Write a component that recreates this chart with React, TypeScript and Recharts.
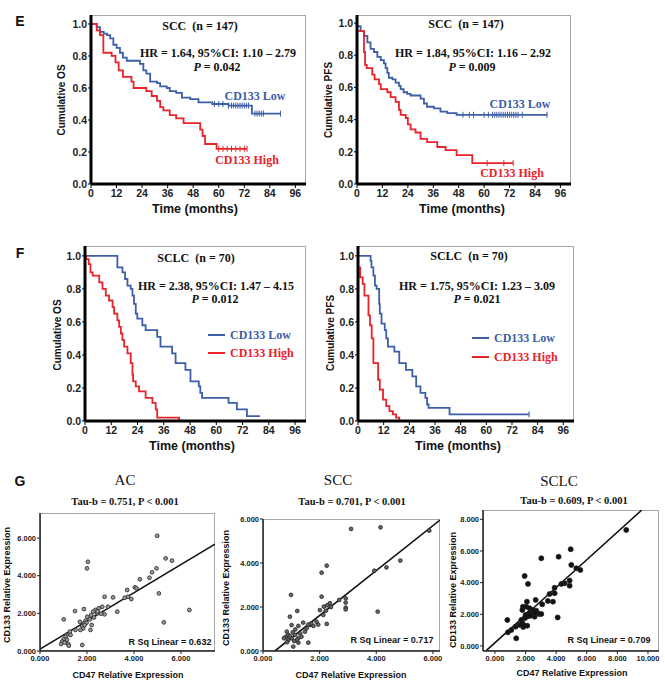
import React from "react";
import { ComposedChart, Line, Scatter, XAxis, YAxis } from "recharts";

// Kaplan-Meier steps: [months, survival]
const osSccLow = [[0,1],[2.7,0.98],[4.2,0.95],[6,0.94],[7.5,0.93],[9,0.91],[10.5,0.87],[12,0.85],[13.6,0.82],[15,0.79],[16.8,0.77],[23,0.75],[24.6,0.71],[26,0.69],[27.8,0.64],[31,0.63],[32.5,0.61],[35.6,0.6],[37,0.58],[40,0.57],[42.7,0.54],[46.6,0.53],[50.5,0.51],[57,0.5],[64.6,0.49],[75.6,0.44],[89,0.44]];
const osSccHigh = [[0,1],[2.7,0.96],[4.2,0.93],[5.8,0.82],[9.7,0.8],[11.5,0.76],[13,0.71],[15,0.67],[19,0.64],[20,0.6],[26,0.58],[28.5,0.55],[31,0.52],[32.5,0.48],[34,0.46],[37,0.43],[40,0.41],[43.5,0.38],[51.3,0.34],[52.4,0.3],[53.6,0.25],[59,0.22],[73.3,0.22]];
const pfsSccLow = [[0,0.98],[1.7,0.95],[3.3,0.92],[4.9,0.88],[6.4,0.84],[8,0.82],[9.6,0.79],[11.2,0.77],[12.7,0.75],[13.5,0.72],[14.3,0.69],[15,0.66],[16.7,0.65],[18.2,0.63],[19.8,0.61],[20.6,0.59],[22,0.57],[23.7,0.56],[25.3,0.55],[30,0.53],[31.6,0.5],[33,0.48],[36.3,0.47],[39.4,0.45],[42.6,0.44],[47,0.43],[89.7,0.43]];
const pfsSccHigh = [[0,0.95],[3.3,0.82],[3.8,0.74],[4.6,0.72],[7.2,0.68],[8.3,0.65],[10.4,0.62],[11.2,0.59],[14.3,0.57],[15.9,0.54],[18.2,0.51],[19.8,0.46],[20.6,0.43],[23,0.41],[24,0.37],[25.3,0.34],[27.6,0.32],[30,0.28],[33.1,0.26],[37.9,0.23],[41.8,0.21],[47,0.18],[54.4,0.13],[73.7,0.13]];
const osSclcLow = [[0,1],[14.8,0.93],[17.1,0.9],[18.3,0.86],[19.4,0.82],[20.9,0.8],[21.7,0.76],[22.4,0.71],[23.2,0.65],[23.9,0.62],[26.2,0.58],[27.7,0.55],[33,0.51],[34.5,0.45],[39.8,0.41],[41.4,0.35],[45.9,0.31],[48.2,0.24],[52,0.21],[52.7,0.17],[53.5,0.14],[65.6,0.11],[69.4,0.07],[74,0.03],[80,0.03]];
const osSclcHigh = [[0,1],[0.5,0.98],[1.7,0.95],[2.5,0.9],[3.5,0.88],[6.5,0.84],[8,0.8],[9.5,0.76],[11,0.73],[12.6,0.69],[13.3,0.65],[14.8,0.61],[15.6,0.57],[16.4,0.53],[17.1,0.49],[17.9,0.45],[19.4,0.41],[20.9,0.35],[21.7,0.28],[22,0.24],[23.2,0.21],[24.7,0.18],[27.7,0.14],[30.8,0.11],[32.3,0.07],[33,0.02],[43,0]];
const pfsSclcLow = [[0,1],[5.9,0.97],[6.3,0.93],[7.2,0.88],[7.9,0.82],[8.7,0.8],[9.9,0.71],[10.2,0.65],[11,0.59],[12.5,0.55],[13.2,0.5],[14,0.45],[17,0.42],[19.3,0.35],[22.4,0.31],[25.4,0.27],[27.2,0.21],[29.2,0.17],[31.5,0.14],[32.3,0.1],[33,0.08],[42.8,0.04],[80,0.04]];
const pfsSclcHigh = [[0,0.93],[1,0.87],[2.2,0.83],[3,0.76],[4.9,0.64],[5.6,0.58],[6.4,0.5],[7.2,0.35],[9.4,0.25],[10.2,0.19],[11.7,0.13],[13.2,0.09],[14.7,0.06],[16.3,0.04],[17.8,0.02],[19.3,0]];

// censored times
const osSccLowCens = [58,60,62,64.6,66,67,68,69,70,71,72,73,74,77,78,79,80,81,89];
const osSccHighCens = [60,62,64,66,68,70,72,73.3];
const pfsSccLowCens = [50,53,55,60,62,64,65,66,67,68,69,70,71,72,73,74,75,76,78,89.7];
const pfsSccHighCens = [61.4,69.3,73.7];
const pfsSclcLowCens = [80];

const monthTicks = [0,12,24,36,48,60,72,84,96];
const survTicks = [0,0.2,0.4,0.6,0.8,1.0];

// scatter: [CD47, CD133]
const acPoints = [[4.99,6.12],[2.04,4.74],[2.0,4.39],[5.35,4.92],[5.62,4.8],[4.96,4.39],[4.77,4.18],[4.66,3.89],[4.25,3.81],[4.04,3.38],[4.11,3.33],[3.71,3.24],[5.06,3.06],[6.36,2.18],[5.27,1.52],[3.74,2.88],[3.89,2.76],[3.61,2.83],[3.11,2.85],[2.75,2.88],[3.29,2.09],[2.89,2.35],[2.75,1.95],[2.65,2.35],[2.5,2.27],[2.36,2.18],[2.26,2.09],[2.43,2.0],[2.18,1.91],[2.12,1.68],[2.01,1.82],[1.87,2.23],[1.49,2.12],[1.01,1.68],[2.2,1.38],[2.15,1.12],[1.94,1.61],[1.87,1.47],[1.8,1.33],[1.84,1.2],[1.72,1.12],[1.51,1.12],[1.27,1.03],[1.3,0.85],[1.13,0.85],[1.09,0.76],[1.01,0.62],[0.94,0.5],[0.9,0.37],[1.2,0.37],[1.8,0.32],[1.23,0.28],[1.7,1.55],[2.3,1.78],[2.45,2.1],[2.6,1.98],[1.98,1.5],[1.9,1.38],[1.05,0.45],[1.15,0.6]];
const sccPoints = [[3.11,5.55],[4.15,5.62],[5.87,5.47],[2.25,3.88],[2.07,3.56],[3.93,3.65],[4.36,3.8],[4.85,4.11],[0.99,2.55],[2.07,2.47],[4.05,1.79],[1.21,1.82],[0.95,1.56],[2.92,2.39],[2.92,2.2],[2.92,1.97],[2.92,1.89],[2.69,2.32],[2.36,2.17],[2.27,2.08],[2.15,2.02],[2.22,1.83],[2.01,1.86],[2.13,1.64],[2.25,1.23],[1.89,1.33],[1.66,1.18],[1.42,1.29],[1.25,1.14],[1.14,0.98],[1.01,1.18],[0.84,0.88],[0.81,0.65],[0.74,0.58],[0.89,0.5],[1.01,0.58],[1.13,0.73],[1.25,0.58],[1.07,0.2],[1.25,0.38],[1.6,0.38],[1.48,0.88],[1.78,1.14],[1.54,1.03],[0.89,0.73],[1.31,0.8],[1.19,0.5],[1.36,0.65],[1.05,0.85],[0.95,0.68],[1.1,0.45],[1.7,1.25],[1.95,1.2],[2.4,2.0],[1.6,1.2],[0.85,0.4]];
const sclcPoints = [[8.58,7.33],[4.95,6.11],[3.03,5.54],[4.16,5.64],[4.99,5.12],[5.32,4.91],[5.58,4.8],[1.94,4.42],[2.16,3.92],[4.88,4.13],[4.88,3.81],[4.55,3.96],[4.34,3.92],[3.9,3.68],[3.9,3.33],[3.57,3.28],[3.79,2.8],[3.46,2.84],[3.09,2.63],[2.66,2.91],[2.09,2.8],[1.83,2.48],[1.79,2.27],[2.05,2.48],[2.27,2.38],[2.37,2.17],[2.48,2.27],[2.7,2.23],[2.88,2.02],[2.48,2.02],[2.22,2.06],[2.0,1.96],[1.94,1.75],[2.09,1.85],[2.59,1.85],[3.03,2.02],[4.1,1.8],[1.72,1.64],[1.79,1.43],[1.61,1.33],[1.35,1.22],[2.11,1.28],[1.07,1.01],[0.85,0.86],[0.81,1.64],[1.39,0.48],[1.85,1.2],[1.9,1.3],[2.3,1.9],[2.6,2.1]];

const acFit = [[0,0.1],[7.45,5.68]];
const sccFit = [[0.42,0],[6.25,5.95]];
const sclcFit = [[-0.57,-0.3],[9.6,8.59]];

const BLUE = "#3d5ea8";
const RED = "#e8232a";
const SERIF = "'Liberation Serif', 'Times New Roman', serif";
const SANS = "'Liberation Sans', Arial, sans-serif";

const toKm = (arr: number[][]) => arr.map(([t, s]) => ({ t, s }));
const toXY = (arr: number[][]) => arr.map(([x, y]) => ({ x, y }));
const survAt = (curve: number[][], t: number) => {
  let s = curve[0][1];
  for (const [ct, cs] of curve) if (ct <= t) s = cs;
  return s;
};
const cens = (curve: number[][], times: number[]) => times.map((t) => ({ t, s: survAt(curve, t) }));

function T({ x, y, children, size = 12, color = "#111", family = SERIF, weight = 700, rotate = 0 }: any) {
  return (
    <div
      style={{
        position: "absolute",
        left: x,
        top: y,
        transform: `translate(-50%,-50%) rotate(${rotate}deg)`,
        fontSize: size,
        fontFamily: family,
        fontWeight: weight,
        color,
        whiteSpace: "nowrap",
        lineHeight: 1,
      }}
    >
      {children}
    </div>
  );
}

function censorShape(color: string) {
  return (p: any) => (
    <line x1={p.cx} x2={p.cx} y1={p.cy - 3} y2={p.cy + 3} stroke={color} strokeWidth={1} />
  );
}

function KM({ left, top, w, h, yMax, low, high, lowCens = [], highCens = [] }: any) {
  const yW = 30;
  const xH = 22;
  const mt = 8;
  const mr = 6;
  const tickStyle = { fill: "#222", fontSize: 10.5, fontWeight: 700, fontFamily: SANS };
  return (
    <>
      <div style={{ position: "absolute", left, top, width: w, height: h, border: "1px solid #a8a8a8", boxSizing: "border-box" }} />
      <div style={{ position: "absolute", left: left - yW, top: top - mt }}>
        <ComposedChart width={yW + w + mr} height={mt + h + xH} margin={{ top: mt, right: mr, left: 0, bottom: 0 }}>
          <XAxis
            type="number"
            dataKey="t"
            domain={[0, 101]}
            ticks={monthTicks}
            interval={0}
            allowDataOverflow
            height={xH}
            tickSize={4}
            axisLine={{ stroke: "#000", strokeWidth: 3 }}
            tickLine={{ stroke: "#000" }}
            tick={tickStyle}
          />
          <YAxis
            type="number"
            domain={[0, yMax]}
            ticks={survTicks}
            interval={0}
            allowDataOverflow
            width={yW}
            tickSize={3}
            tickMargin={1}
            tickFormatter={(v: number) => v.toFixed(1)}
            axisLine={{ stroke: "#000", strokeWidth: 3 }}
            tickLine={{ stroke: "#000" }}
            tick={tickStyle}
          />
          <Line data={toKm(low)} dataKey="s" type="stepAfter" stroke={BLUE} strokeWidth={1.8} dot={false} isAnimationActive={false} />
          <Line data={toKm(high)} dataKey="s" type="stepAfter" stroke={RED} strokeWidth={1.8} dot={false} isAnimationActive={false} />
          <Scatter data={cens(low, lowCens)} dataKey="s" shape={censorShape(BLUE)} isAnimationActive={false} />
          <Scatter data={cens(high, highCens)} dataKey="s" shape={censorShape(RED)} isAnimationActive={false} />
        </ComposedChart>
      </div>
    </>
  );
}

function ScatterPanel({ left, top, w, h, xDomain, yDomain, xTicks, yTicks, points, fit, r, fill }: any) {
  const yW = 34;
  const xH = 20;
  const mt = 6;
  const mr = 8;
  const tickStyle = { fill: "#222", fontSize: 7.5, fontWeight: 700, fontFamily: SANS };
  return (
    <>
      <div style={{ position: "absolute", left, top, width: w, height: h, border: "1px solid #a8a8a8", boxSizing: "border-box" }} />
      <div style={{ position: "absolute", left: left - yW, top: top - mt }}>
        <ComposedChart width={yW + w + mr} height={mt + h + xH} margin={{ top: mt, right: mr, left: 0, bottom: 0 }}>
          <XAxis
            type="number"
            dataKey="x"
            domain={xDomain}
            ticks={xTicks}
            interval={0}
            allowDataOverflow
            height={xH}
            tickSize={3}
            tickFormatter={(v: number) => v.toFixed(3)}
            axisLine={{ stroke: "#222", strokeWidth: 1.5 }}
            tickLine={{ stroke: "#222" }}
            tick={tickStyle}
          />
          <YAxis
            type="number"
            domain={yDomain}
            ticks={yTicks}
            interval={0}
            allowDataOverflow
            width={yW}
            tickSize={3}
            tickMargin={1}
            tickFormatter={(v: number) => v.toFixed(3)}
            axisLine={{ stroke: "#222", strokeWidth: 1.5 }}
            tickLine={{ stroke: "#222" }}
            tick={tickStyle}
          />
          <Scatter
            data={toXY(points)}
            dataKey="y"
            isAnimationActive={false}
            shape={(p: any) => <circle cx={p.cx} cy={p.cy} r={r} fill={fill} stroke="#222" strokeWidth={0.8} />}
          />
          <Line data={toXY(fit)} dataKey="y" type="linear" stroke="#111" strokeWidth={1.6} dot={false} isAnimationActive={false} />
        </ComposedChart>
      </div>
    </>
  );
}

function Legend({ x, y, color, label }: any) {
  return (
    <>
      <div style={{ position: "absolute", left: x, top: y - 1.2, width: 17, height: 2.5, background: color }} />
      <div style={{ position: "absolute", left: x + 22, top: y, transform: "translateY(-50%)", fontFamily: SERIF, fontWeight: 700, fontSize: 12, color, whiteSpace: "nowrap", lineHeight: 1 }}>
        {label}
      </div>
    </>
  );
}

export default function App() {
  return (
    <div style={{ position: "absolute", left: 0, top: 0, width: 665, height: 681, background: "#fff", overflow: "hidden" }}>
      {/* E */}
      <T x={20} y={21} family={SANS} size={14}>E</T>
      <KM left={91} top={15} w={215} h={169} yMax={1.056} low={osSccLow} high={osSccHigh} lowCens={osSccLowCens} highCens={osSccHighCens} />
      <KM left={357} top={15} w={214} h={169} yMax={1.05} low={pfsSccLow} high={pfsSccHigh} lowCens={pfsSccLowCens} highCens={pfsSccHighCens} />
      <T x={62} y={100} family={SANS} size={10} rotate={-90}>Cumulative OS</T>
      <T x={329} y={100} family={SANS} size={10} rotate={-90}>Cumulative PFS</T>
      <T x={195} y={209} family={SANS} size={12.5}>Time (months)</T>
      <T x={462} y={209} family={SANS} size={12.5}>Time (months)</T>
      <T x={200} y={26}>SCC&nbsp; (n = 147)</T>
      <T x={218} y={53}>HR = 1.64, 95%CI: 1.10 – 2.79</T>
      <T x={217} y={67}><i>P</i> = 0.042</T>
      <T x={255} y={96} color={BLUE}>CD133 Low</T>
      <T x={247} y={160} color={RED}>CD133 High</T>
      <T x={466} y={24}>SCC&nbsp; (n = 147)</T>
      <T x={473} y={53}>HR = 1.84, 95%CI: 1.16 – 2.92</T>
      <T x={472} y={67}><i>P</i> = 0.009</T>
      <T x={520} y={104} color={BLUE}>CD133 Low</T>
      <T x={512} y={173} color={RED}>CD133 High</T>

      {/* F */}
      <T x={20} y={253} family={SANS} size={14}>F</T>
      <KM left={85} top={246} w={221} h={175} yMax={1.06} low={osSclcLow} high={osSclcHigh} />
      <KM left={358} top={246} w={216} h={175} yMax={1.06} low={pfsSclcLow} high={pfsSclcHigh} lowCens={pfsSclcLowCens} />
      <T x={58} y={335} family={SANS} size={10} rotate={-90}>Cumulative OS</T>
      <T x={331} y={333} family={SANS} size={10} rotate={-90}>Cumulative PFS</T>
      <T x={192} y={446} family={SANS} size={12.5}>Time (months)</T>
      <T x={458} y={446} family={SANS} size={12.5}>Time (months)</T>
      <T x={196} y={258}>SCLC&nbsp; (n = 70)</T>
      <T x={216} y={286}>HR = 2.38, 95%CI: 1.47 – 4.15</T>
      <T x={215} y={299}><i>P</i> = 0.012</T>
      <Legend x={208} y={335} color={BLUE} label="CD133 Low" />
      <Legend x={208} y={353} color={RED} label="CD133 High" />
      <T x={469} y={256}>SCLC&nbsp; (n = 70)</T>
      <T x={477} y={286}>HR = 1.75, 95%CI: 1.23 – 3.09</T>
      <T x={477} y={299}><i>P</i> = 0.021</T>
      <Legend x={472} y={338} color={BLUE} label="CD133 Low" />
      <Legend x={472} y={357} color={RED} label="CD133 High" />

      {/* G */}
      <T x={20} y={481} family={SANS} size={14}>G</T>
      <T x={125} y={480} weight={400} size={15}>AC</T>
      <T x={338} y={480} weight={400} size={15}>SCC</T>
      <T x={559} y={481} weight={400} size={15}>SCLC</T>
      <T x={125} y={502} size={10.5}>Tau-b = 0.751, P &lt; 0.001</T>
      <T x={352} y={502} size={10.5}>Tau-b = 0.701, P &lt; 0.001</T>
      <T x={574} y={501} size={10.5}>Tau-b = 0.609, P &lt; 0.001</T>

      <ScatterPanel left={40} top={513} w={175} h={138} xDomain={[0, 7.45]} yDomain={[0, 7.33]} xTicks={[0, 2, 4, 6]} yTicks={[0, 2, 4, 6]} points={acPoints} fit={acFit} r={1.9} fill="#9a9a9a" />
      <ScatterPanel left={263} top={519} w={177} h={132} xDomain={[0, 6.25]} yDomain={[0, 6]} xTicks={[0, 2, 4, 6]} yTicks={[0, 2, 4, 6]} points={sccPoints} fit={sccFit} r={1.9} fill="#666" />
      <ScatterPanel left={483} top={510} w={176} h={141} xDomain={[-0.78, 10.72]} yDomain={[-0.32, 8.59]} xTicks={[0, 2, 4, 6, 8, 10]} yTicks={[0, 2, 4, 6, 8]} points={sclcPoints} fit={sclcFit} r={2.5} fill="#111" />

      <T x={7} y={585} family={SANS} size={9} rotate={-90}>CD133 Relative Expression</T>
      <T x={226} y={588} family={SANS} size={9} rotate={-90}>CD133 Relative Expression</T>
      <T x={453} y={590} family={SANS} size={9} rotate={-90}>CD133 Relative Expression</T>
      <T x={128} y={675} family={SANS} size={9}>CD47 Relative Expression</T>
      <T x={351} y={675} family={SANS} size={9}>CD47 Relative Expression</T>
      <T x={572} y={673} family={SANS} size={9}>CD47 Relative Expression</T>
      <T x={170} y={642} family={SANS} size={9}>R Sq Linear = 0.632</T>
      <T x={392} y={640} family={SANS} size={9}>R Sq Linear = 0.717</T>
      <T x={609} y={640} family={SANS} size={9}>R Sq Linear = 0.709</T>
    </div>
  );
}
